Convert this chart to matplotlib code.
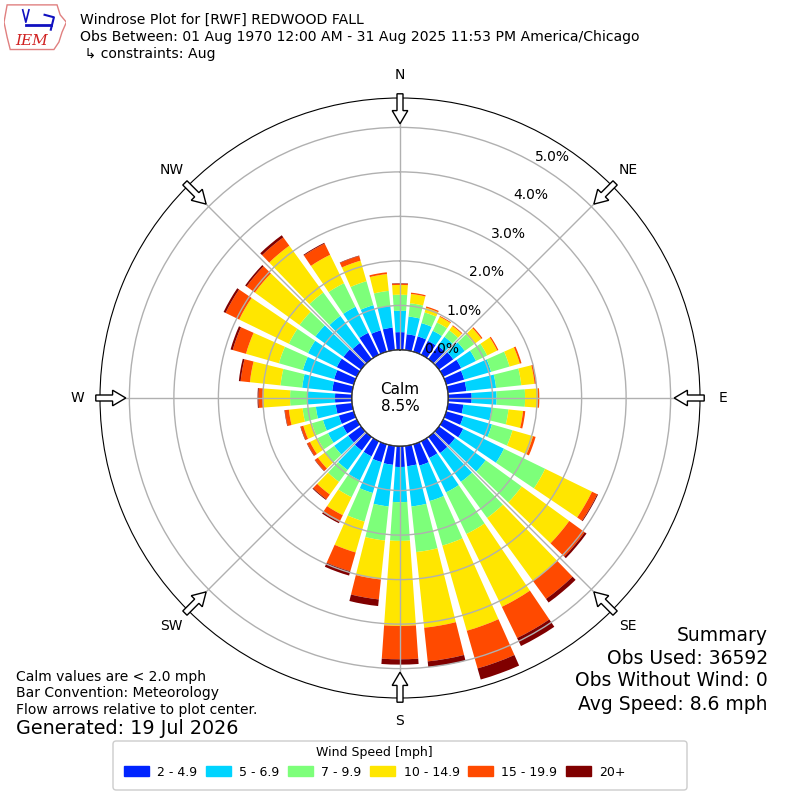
import numpy as np
import matplotlib.pyplot as plt
from matplotlib.patches import Circle, FancyArrow, Patch, Polygon, FancyBboxPatch

# direction bins (deg, meteorological) and percent frequency per speed bin
directions = np.arange(0, 360, 10)
speed_labels = ['2 - 4.9', '5 - 6.9', '7 - 9.9', '10 - 14.9', '15 - 19.9', '20+']
colors = ['#0024ff', '#00d4ff', '#7dff7a', '#ffe600', '#ff4a00', '#800000']

pct_2_5 = [0.40, 0.36, 0.36, 0.35, 0.37, 0.40, 0.45, 0.42, 0.42, 0.53, 0.35, 0.40,
           0.50, 0.45, 0.45, 0.42, 0.50, 0.46, 0.47, 0.43, 0.42, 0.38, 0.38, 0.36,
           0.35, 0.35, 0.37, 0.38, 0.45, 0.46, 0.50, 0.49, 0.45, 0.55, 0.50, 0.51]
pct_5_7 = [0.48, 0.40, 0.31, 0.25, 0.25, 0.32, 0.37, 0.63, 0.67, 0.56, 0.64, 0.67,
           1.02, 0.85, 0.80, 0.86, 0.83, 0.91, 0.79, 0.94, 0.72, 0.60, 0.54, 0.39,
           0.37, 0.37, 0.45, 0.61, 0.68, 0.73, 0.72, 0.78, 0.75, 0.65, 0.59, 0.49]
pct_7_10 = [0.36, 0.30, 0.25, 0.21, 0.18, 0.26, 0.28, 0.43, 0.57, 0.64, 0.38, 0.48,
            1.03, 1.00, 1.00, 1.04, 1.04, 1.03, 0.87, 0.77, 0.67, 0.42, 0.33, 0.25,
            0.26, 0.26, 0.30, 0.40, 0.49, 0.56, 0.48, 0.44, 0.65, 0.59, 0.56, 0.34]
pct_10_15 = [0.22, 0.21, 0.11, 0.14, 0.12, 0.20, 0.25, 0.24, 0.30, 0.29, 0.33, 0.48,
             1.17, 1.32, 1.75, 1.82, 1.99, 1.71, 1.91, 0.88, 0.72, 0.45, 0.35, 0.20,
             0.19, 0.20, 0.31, 0.60, 0.69, 0.77, 1.24, 1.24, 1.30, 0.71, 0.48, 0.38]
pct_15_20 = [0.03, 0.03, 0.03, 0.02, 0.02, 0.03, 0.03, 0.04, 0.04, 0.03, 0.05, 0.06,
             0.13, 0.43, 0.50, 0.78, 0.88, 0.76, 0.75, 0.45, 0.44, 0.17, 0.13, 0.08,
             0.07, 0.06, 0.09, 0.11, 0.21, 0.31, 0.34, 0.23, 0.23, 0.28, 0.11, 0.04]
pct_20_up = [0.01, 0.0, 0.0, 0.0, 0.0, 0.0, 0.0, 0.0, 0.0, 0.0, 0.0, 0.0,
             0.02, 0.05, 0.10, 0.20, 0.26, 0.13, 0.12, 0.15, 0.10, 0.03, 0.02, 0.01,
             0.01, 0.01, 0.01, 0.02, 0.04, 0.05, 0.05, 0.04, 0.06, 0.02, 0.01, 0.0]
speed_bins = [pct_2_5, pct_5_7, pct_7_10, pct_10_15, pct_15_20, pct_20_up]

calm_pct = 8.5
ring_ticks = [0, 1, 2, 3, 4, 5]
compass = ['N', 'NE', 'E', 'SE', 'S', 'SW', 'W', 'NW']

fig = plt.figure(figsize=(8, 8), dpi=100)
ax = fig.add_axes([0.125, 0.1275, 0.75, 0.75], projection='polar')
ax.set_theta_zero_location('N')
ax.set_theta_direction(-1)
ax.set_rorigin(-1.08)
ax.set_ylim(0, 5.66)

theta = np.deg2rad(directions)
bottom = np.zeros(len(directions))
for vals, c in zip(speed_bins, colors):
    vals = np.array(vals)
    ax.bar(theta, vals, width=np.deg2rad(8), bottom=bottom, color=c,
           edgecolor='none', zorder=2)
    bottom += vals

ax.set_axisbelow(False)
ax.grid(True, color='#b0b0b0', lw=1)
ax.set_yticks(ring_ticks)
ax.set_yticklabels(['%.1f%%' % t for t in ring_ticks], fontsize=10)
ax.set_rlabel_position(30)
ax.set_xticks(np.deg2rad(np.arange(0, 360, 45)))
ax.set_xticklabels(compass, fontsize=10)
ax.tick_params(axis='x', pad=6)

# calm circle in the middle
ax.add_patch(Circle((0.5, 0.5), 48 / 600, transform=ax.transAxes, fc='white',
                    ec='k', lw=1, zorder=5))
ax.text(0.5, 0.5, 'Calm\n%.1f%%' % calm_pct, transform=ax.transAxes,
        ha='center', va='center', fontsize=11, zorder=6)

# flow arrows pointing to the plot center
for d in range(0, 360, 45):
    a = np.deg2rad(d)
    r0, r1 = 0.507, 0.457
    x0, y0 = 0.5 + r0 * np.sin(a), 0.5 + r0 * np.cos(a)
    x1, y1 = 0.5 + r1 * np.sin(a), 0.5 + r1 * np.cos(a)
    ax.add_patch(FancyArrow(x0, y0, x1 - x0, y1 - y0, width=0.01,
                            head_width=0.026, head_length=0.022,
                            length_includes_head=True, fc='white', ec='k',
                            lw=1, transform=ax.transAxes, clip_on=False,
                            zorder=6))

# header
fig.text(0.1, 0.975, 'Windrose Plot for [RWF] REDWOOD FALL', fontsize=10.1, va='center')
fig.text(0.1, 0.954, 'Obs Between: 01 Aug 1970 12:00 AM - 31 Aug 2025 11:53 PM America/Chicago',
         fontsize=10.1, va='center')
fig.text(0.1, 0.9325, ' \u21b3 constraints: Aug', fontsize=10.1, va='center')

# rough IEM logo
lax = fig.add_axes([0.005, 0.935, 0.078, 0.062])
lax.set_xlim(0, 1)
lax.set_ylim(0, 1)
lax.axis('off')
lax.add_patch(Polygon([[0.05, 0.95], [0.85, 0.95], [0.9, 0.75], [1.0, 0.6], [0.93, 0.4],
                       [0.88, 0.2], [0.8, 0.05], [0.1, 0.05], [0.05, 0.3], [0.0, 0.6]],
                      closed=True, fc='none', ec='#e08080', lw=1))
lax.plot([0.35, 0.75], [0.55, 0.55], color='#1010c0', lw=2)
lax.plot([0.3, 0.35, 0.4], [0.85, 0.6, 0.85], color='#1010c0', lw=1.2)
lax.plot([0.65, 0.8, 0.75], [0.75, 0.7, 0.45], color='#1010c0', lw=1.5)
lax.text(0.45, 0.22, 'IEM', color='#d02020', fontsize=11, style='italic',
         family='serif', ha='center', va='center')

# footer notes
fig.text(0.02, 0.154, 'Calm values are < 2.0 mph', fontsize=10, va='center')
fig.text(0.02, 0.1335, 'Bar Convention: Meteorology', fontsize=10, va='center')
fig.text(0.02, 0.1125, 'Flow arrows relative to plot center.', fontsize=10, va='center')
fig.text(0.02, 0.089, 'Generated: 19 Jul 2026', fontsize=13.8, va='center')

fig.text(0.96, 0.206, 'Summary', fontsize=13.5, ha='right', va='center')
fig.text(0.96, 0.1775, 'Obs Used: 36592', fontsize=13.5, ha='right', va='center')
fig.text(0.96, 0.149, 'Obs Without Wind: 0', fontsize=13.5, ha='right', va='center')
fig.text(0.96, 0.119, 'Avg Speed: 8.6 mph', fontsize=13.5, ha='right', va='center')

# legend box (drawn separately, wider than its content as in the original)
fig.patches.append(FancyBboxPatch((113 / 800, 10 / 800), 574 / 800, 49 / 800,
                                  boxstyle='round,pad=0,rounding_size=0.004',
                                  transform=fig.transFigure, fc='white',
                                  ec='#cccccc', lw=1))
handles = [Patch(color=c) for c in colors]
fig.legend(handles, speed_labels, loc='lower left', ncol=6,
           bbox_to_anchor=(111 / 800, 9 / 800), title='Wind Speed [mph]',
           fontsize=9, title_fontsize=9, handlelength=2.0, handleheight=0.8,
           handletextpad=0.7, columnspacing=0.65, borderpad=0.5,
           frameon=False)

fig.savefig('out.png', dpi=100)
